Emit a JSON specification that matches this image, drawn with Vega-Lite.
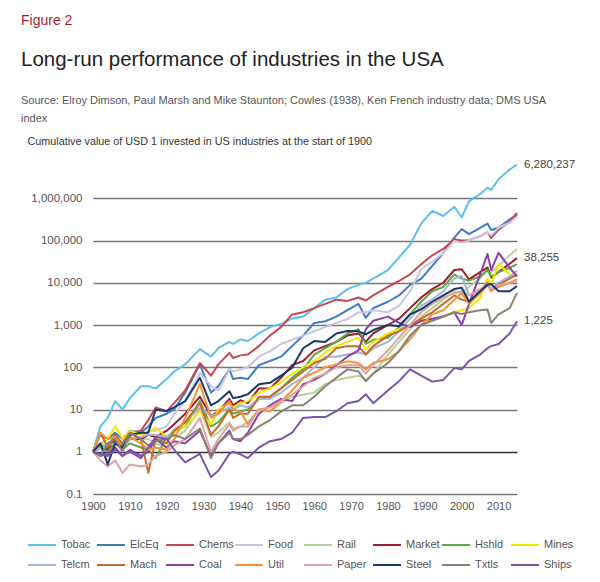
{
  "$schema": "https://vega.github.io/schema/vega-lite/v6.json",
  "padding": {"left": 21, "top": 13, "right": 5, "bottom": 5},
  "title": {"text": "Figure 2", "anchor": "start", "color": "#a81c2f", "fontSize": 14, "fontWeight": "normal", "font": "Liberation Sans", "offset": 22},
  "vconcat": [
    {
      "width": 424,
      "height": 338,
      "title": {
        "text": "Long-run performance of industries in the USA",
        "subtitle": ["Source: Elroy Dimson, Paul Marsh and Mike Staunton; Cowles (1938), Ken French industry data; DMS USA", "index"],
        "anchor": "start", "frame": "group", "dx": -72,
        "font": "Liberation Sans", "fontSize": 20.5, "fontWeight": "normal", "color": "#222",
        "subtitleFont": "Liberation Sans", "subtitleFontSize": 11, "subtitleColor": "#555", "subtitleLineHeight": 18, "subtitlePadding": 25,
        "offset": 11
      },
      "data": {"values": [
        {"Year":1900,"Tobac":1,"ElcEq":1,"Chems":1,"Food":1,"Rail":1,"Market":1,"Hshld":1,"Mines":1,"Telcm":1,"Mach":1,"Coal":1,"Util":1,"Paper":1,"Steel":1,"Txtls":1,"Ships":1},
        {"Year":1902,"Tobac":3.98,"ElcEq":2.51,"Chems":1.41,"Food":1.26,"Rail":1.58,"Market":1.26,"Hshld":1.26,"Mines":1.58,"Telcm":1.26,"Mach":2.82,"Coal":0.794,"Util":2.82,"Paper":0.631,"Steel":1.58,"Txtls":0.794,"Ships":0.891},
        {"Year":1904,"Tobac":6.31,"ElcEq":2.0,"Chems":1.26,"Food":1.12,"Rail":1.41,"Market":1.12,"Hshld":1,"Mines":2.0,"Telcm":1.41,"Mach":1.26,"Coal":0.891,"Util":2.0,"Paper":0.447,"Steel":0.501,"Txtls":1.58,"Ships":0.794},
        {"Year":1906,"Tobac":15.8,"ElcEq":2.82,"Chems":2.0,"Food":1.58,"Rail":2.24,"Market":1.78,"Hshld":1.58,"Mines":3.98,"Telcm":1.58,"Mach":2.51,"Coal":1.26,"Util":2.24,"Paper":0.631,"Steel":1.58,"Txtls":2.0,"Ships":1.12},
        {"Year":1908,"Tobac":10,"ElcEq":2.0,"Chems":1.58,"Food":1.26,"Rail":1.58,"Market":1.41,"Hshld":1.12,"Mines":2.0,"Telcm":1.58,"Mach":1.58,"Coal":0.794,"Util":1.26,"Paper":0.316,"Steel":1.26,"Txtls":1,"Ships":0.794},
        {"Year":1910,"Tobac":18.6,"ElcEq":3.16,"Chems":2.82,"Food":2.0,"Rail":2.24,"Market":2.0,"Hshld":1.58,"Mines":3.16,"Telcm":2.0,"Mach":2.82,"Coal":1.12,"Util":2.24,"Paper":0.501,"Steel":2.51,"Txtls":2.82,"Ships":1},
        {"Year":1913,"Tobac":35.5,"ElcEq":2.82,"Chems":3.16,"Food":2.0,"Rail":2.0,"Market":2.0,"Hshld":1.26,"Mines":2.51,"Telcm":2.24,"Mach":2.0,"Coal":0.794,"Util":1.58,"Paper":0.447,"Steel":2.82,"Txtls":2.0,"Ships":0.708},
        {"Year":1915,"Tobac":35.5,"ElcEq":3.98,"Chems":5.62,"Food":3.16,"Rail":2.0,"Market":2.51,"Hshld":1.12,"Mines":2.82,"Telcm":2.51,"Mach":0.316,"Coal":1,"Util":1.12,"Paper":0.501,"Steel":2.82,"Txtls":1.41,"Ships":1.26},
        {"Year":1917,"Tobac":31.6,"ElcEq":6.31,"Chems":11.2,"Food":3.16,"Rail":1.58,"Market":2.24,"Hshld":0.708,"Mines":3.72,"Telcm":2.51,"Mach":2.0,"Coal":2.0,"Util":1.26,"Paper":0.794,"Steel":10,"Txtls":1.78,"Ships":2.24},
        {"Year":1920,"Tobac":52.5,"ElcEq":7.94,"Chems":9.12,"Food":3.98,"Rail":1.26,"Market":3.16,"Hshld":2.24,"Mines":2.24,"Telcm":2.24,"Mach":1.58,"Coal":1.26,"Util":1.12,"Paper":1,"Steel":9.12,"Txtls":2.0,"Ships":2.0},
        {"Year":1922,"Tobac":79.4,"ElcEq":10,"Chems":14.1,"Food":7.94,"Rail":2.0,"Market":4.47,"Hshld":3.16,"Mines":2.82,"Telcm":3.16,"Mach":3.16,"Coal":1.78,"Util":2.0,"Paper":1.41,"Steel":11.2,"Txtls":2.51,"Ships":1.12},
        {"Year":1925,"Tobac":117,"ElcEq":25.1,"Chems":28.2,"Food":15.8,"Rail":3.16,"Market":7.94,"Hshld":3.98,"Mines":3.98,"Telcm":5.01,"Mach":5.01,"Coal":1.58,"Util":6.31,"Paper":2.0,"Steel":15.8,"Txtls":2.0,"Ships":0.562},
        {"Year":1929,"Tobac":269,"ElcEq":117,"Chems":126,"Food":74.1,"Rail":10,"Market":20,"Hshld":15.8,"Mines":8.91,"Telcm":11.2,"Mach":14.1,"Coal":3.16,"Util":39.8,"Paper":6.31,"Steel":56.2,"Txtls":3.55,"Ships":0.891},
        {"Year":1932,"Tobac":178,"ElcEq":25.1,"Chems":63.1,"Food":35.5,"Rail":2.24,"Market":7.08,"Hshld":3.98,"Mines":4.47,"Telcm":7.08,"Mach":2.51,"Coal":0.794,"Util":6.31,"Paper":1,"Steel":12.6,"Txtls":0.708,"Ships":0.251},
        {"Year":1934,"Tobac":282,"ElcEq":35.5,"Chems":117,"Food":28.2,"Rail":2.82,"Market":8.91,"Hshld":5.01,"Mines":10,"Telcm":7.94,"Mach":3.98,"Coal":1.58,"Util":7.94,"Paper":2.0,"Steel":15.8,"Txtls":1.58,"Ships":0.355},
        {"Year":1937,"Tobac":398,"ElcEq":89.1,"Chems":219,"Food":89.1,"Rail":5.01,"Market":17.8,"Hshld":10,"Mines":14.1,"Telcm":11.2,"Mach":10,"Coal":3.16,"Util":15.8,"Paper":4.47,"Steel":26.9,"Txtls":2.82,"Ships":0.891},
        {"Year":1938,"Tobac":355,"ElcEq":52.5,"Chems":166,"Food":79.4,"Rail":3.55,"Market":12.6,"Hshld":7.94,"Mines":11.2,"Telcm":10,"Mach":6.31,"Coal":2.0,"Util":10,"Paper":3.16,"Steel":18.6,"Txtls":2.0,"Ships":1},
        {"Year":1940,"Tobac":457,"ElcEq":56.2,"Chems":191,"Food":89.1,"Rail":3.98,"Market":16.6,"Hshld":8.91,"Mines":14.1,"Telcm":12.6,"Mach":7.94,"Coal":1.78,"Util":8.91,"Paper":3.98,"Steel":20,"Txtls":2.0,"Ships":0.871},
        {"Year":1942,"Tobac":417,"ElcEq":52.5,"Chems":200,"Food":100,"Rail":5.01,"Market":14.1,"Hshld":10,"Mines":15.8,"Telcm":11.2,"Mach":7.94,"Coal":2.82,"Util":4.47,"Paper":3.98,"Steel":22.9,"Txtls":2.51,"Ships":0.708},
        {"Year":1945,"Tobac":631,"ElcEq":112,"Chems":316,"Food":178,"Rail":10,"Market":31.6,"Hshld":17.8,"Mines":25.1,"Telcm":17.8,"Mach":20,"Coal":7.94,"Util":10,"Paper":10,"Steel":39.8,"Txtls":3.98,"Ships":1.26},
        {"Year":1948,"Tobac":891,"ElcEq":141,"Chems":562,"Food":240,"Rail":8.91,"Market":31.6,"Hshld":20,"Mines":31.6,"Telcm":17.8,"Mach":20,"Coal":12.6,"Util":9.12,"Paper":11.2,"Steel":42.7,"Txtls":5.62,"Ships":1.78},
        {"Year":1951,"Tobac":1050,"ElcEq":178,"Chems":891,"Food":355,"Rail":14.1,"Market":56.2,"Hshld":31.6,"Mines":44.7,"Telcm":25.1,"Mach":31.6,"Coal":17.8,"Util":15.8,"Paper":15.8,"Steel":63.1,"Txtls":8.91,"Ships":2.0},
        {"Year":1954,"Tobac":1410,"ElcEq":316,"Chems":1780,"Food":447,"Rail":20,"Market":112,"Hshld":56.2,"Mines":70.8,"Telcm":39.8,"Mach":50.1,"Coal":15.8,"Util":28.2,"Paper":22.4,"Steel":97.7,"Txtls":12.6,"Ships":2.82},
        {"Year":1957,"Tobac":1580,"ElcEq":562,"Chems":2000,"Food":562,"Rail":22.4,"Market":141,"Hshld":89.1,"Mines":100,"Telcm":56.2,"Mach":79.4,"Coal":39.8,"Util":56.2,"Paper":35.5,"Steel":282,"Txtls":12.6,"Ships":6.31},
        {"Year":1960,"Tobac":2510,"ElcEq":1120,"Chems":2510,"Food":708,"Rail":25.1,"Market":251,"Hshld":200,"Mines":141,"Telcm":100,"Mach":126,"Coal":50.1,"Util":74.1,"Paper":56.2,"Steel":417,"Txtls":20,"Ships":6.61},
        {"Year":1963,"Tobac":3980,"ElcEq":1230,"Chems":3160,"Food":891,"Rail":39.8,"Market":316,"Hshld":282,"Mines":224,"Telcm":178,"Mach":158,"Coal":70.8,"Util":100,"Paper":70.8,"Steel":398,"Txtls":35.5,"Ships":6.61},
        {"Year":1966,"Tobac":4470,"ElcEq":1580,"Chems":3980,"Food":1120,"Rail":50.1,"Market":398,"Hshld":398,"Mines":316,"Telcm":178,"Mach":282,"Coal":112,"Util":117,"Paper":100,"Steel":631,"Txtls":56.2,"Ships":9.12},
        {"Year":1969,"Tobac":7080,"ElcEq":2240,"Chems":3720,"Food":1380,"Rail":56.2,"Market":562,"Hshld":631,"Mines":398,"Telcm":200,"Mach":316,"Coal":178,"Util":138,"Paper":112,"Steel":724,"Txtls":89.1,"Ships":14.1},
        {"Year":1972,"Tobac":8910,"ElcEq":3160,"Chems":4470,"Food":2000,"Rail":63.1,"Market":631,"Hshld":794,"Mines":501,"Telcm":224,"Mach":316,"Coal":251,"Util":126,"Paper":112,"Steel":708,"Txtls":79.4,"Ships":15.8},
        {"Year":1974,"Tobac":10000,"ElcEq":1480,"Chems":3800,"Food":2000,"Rail":50.1,"Market":398,"Hshld":355,"Mines":263,"Telcm":200,"Mach":200,"Coal":794,"Util":89.1,"Paper":70.8,"Steel":603,"Txtls":46.8,"Ships":22.9},
        {"Year":1976,"Tobac":12600,"ElcEq":2510,"Chems":5010,"Food":2240,"Rail":70.8,"Market":631,"Hshld":447,"Mines":398,"Telcm":282,"Mach":316,"Coal":1260,"Util":126,"Paper":112,"Steel":759,"Txtls":70.8,"Ships":14.1},
        {"Year":1980,"Tobac":20000,"ElcEq":3550,"Chems":7940,"Food":2000,"Rail":200,"Market":1000,"Hshld":501,"Mines":631,"Telcm":398,"Mach":562,"Coal":1580,"Util":155,"Paper":251,"Steel":1000,"Txtls":126,"Ships":28.2},
        {"Year":1983,"Tobac":39800,"ElcEq":5010,"Chems":11000,"Food":2820,"Rail":398,"Market":1410,"Hshld":891,"Mines":794,"Telcm":708,"Mach":708,"Coal":1120,"Util":240,"Paper":501,"Steel":933,"Txtls":240,"Ships":46.8},
        {"Year":1986,"Tobac":79400,"ElcEq":8910,"Chems":15800,"Food":6310,"Rail":794,"Market":2510,"Hshld":1780,"Mines":1000,"Telcm":1410,"Mach":1000,"Coal":891,"Util":457,"Paper":1000,"Steel":1780,"Txtls":562,"Ships":89.1},
        {"Year":1989,"Tobac":251000,"ElcEq":12300,"Chems":27500,"Food":20900,"Rail":1580,"Market":4470,"Hshld":3550,"Mines":1260,"Telcm":2820,"Mach":1410,"Coal":1260,"Util":1000,"Paper":2000,"Steel":2340,"Txtls":1000,"Ships":63.1},
        {"Year":1992,"Tobac":501000,"ElcEq":25100,"Chems":44700,"Food":31600,"Rail":2510,"Market":7080,"Hshld":6310,"Mines":1260,"Telcm":3980,"Mach":2000,"Coal":1410,"Util":1780,"Paper":3160,"Steel":3550,"Txtls":1260,"Ships":45.7},
        {"Year":1995,"Tobac":380000,"ElcEq":50100,"Chems":63100,"Food":50100,"Rail":3980,"Market":10000,"Hshld":7940,"Mines":1580,"Telcm":6310,"Mach":3160,"Coal":1580,"Util":2240,"Paper":4470,"Steel":5010,"Txtls":1580,"Ships":50.1},
        {"Year":1998,"Tobac":631000,"ElcEq":117000,"Chems":107000,"Food":97700,"Rail":6310,"Market":20000,"Hshld":15800,"Mines":2000,"Telcm":12600,"Mach":5010,"Coal":2000,"Util":3980,"Paper":5620,"Steel":7080,"Txtls":2000,"Ships":95.5},
        {"Year":2000,"Tobac":355000,"ElcEq":186000,"Chems":100000,"Food":89100,"Rail":5620,"Market":20900,"Hshld":12600,"Mines":2240,"Telcm":14500,"Mach":3980,"Coal":1000,"Util":5620,"Paper":6310,"Steel":7590,"Txtls":1820,"Ships":89.1},
        {"Year":2002,"Tobac":851000,"ElcEq":141000,"Chems":102000,"Food":100000,"Rail":7940,"Market":12000,"Hshld":11200,"Mines":2510,"Telcm":5010,"Mach":3550,"Coal":3160,"Util":3160,"Paper":5010,"Steel":3550,"Txtls":2000,"Ships":141},
        {"Year":2005,"Tobac":1260000,"ElcEq":200000,"Chems":126000,"Food":126000,"Rail":12600,"Market":17800,"Hshld":14100,"Mines":4370,"Telcm":6310,"Mach":6310,"Coal":15800,"Util":5620,"Paper":7080,"Steel":6310,"Txtls":2240,"Ships":200},
        {"Year":2007,"Tobac":1780000,"ElcEq":251000,"Chems":155000,"Food":155000,"Rail":20000,"Market":22900,"Hshld":20000,"Mines":12600,"Telcm":10000,"Mach":10000,"Coal":47900,"Util":8910,"Paper":8910,"Steel":8910,"Txtls":2340,"Ships":282},
        {"Year":2008,"Tobac":1580000,"ElcEq":178000,"Chems":115000,"Food":132000,"Rail":17800,"Market":13200,"Hshld":14100,"Mines":9330,"Telcm":7080,"Mach":6310,"Coal":20000,"Util":6310,"Paper":7080,"Steel":9330,"Txtls":1120,"Ships":316},
        {"Year":2010,"Tobac":2820000,"ElcEq":200000,"Chems":178000,"Food":200000,"Rail":25100,"Market":17800,"Hshld":17800,"Mines":27500,"Telcm":10000,"Mach":8910,"Coal":51300,"Util":7940,"Paper":8910,"Steel":6310,"Txtls":1780,"Ships":355},
        {"Year":2013,"Tobac":4790000,"ElcEq":316000,"Chems":282000,"Food":263000,"Rail":44700,"Market":28200,"Hshld":22400,"Mines":15800,"Telcm":14100,"Mach":12600,"Coal":22900,"Util":10000,"Paper":10000,"Steel":6310,"Txtls":2510,"Ships":631},
        {"Year":2015,"Tobac":6280237,"ElcEq":398000,"Chems":447000,"Food":363000,"Rail":63100,"Market":38255,"Hshld":27500,"Mines":14500,"Telcm":19100,"Mach":15800,"Coal":14100,"Util":12000,"Paper":11000,"Steel":8320,"Txtls":5750,"Ships":1225}
      ]},
      "transform": [
        {"fold": ["Tobac","ElcEq","Chems","Food","Rail","Market","Hshld","Mines","Telcm","Mach","Coal","Util","Paper","Steel","Txtls","Ships"], "as": ["Industry", "Value"]}
      ],
      "encoding": {
        "x": {"field": "Year", "type": "quantitative",
          "scale": {"domain": [1900, 2015], "nice": false, "zero": false},
          "axis": {"values": [1900,1910,1920,1930,1940,1950,1960,1970,1980,1990,2000,2010], "format": "d", "title": null, "grid": false, "domain": false, "ticks": false, "labelOverlap": false, "labelFlush": false, "labelPadding": 6, "labelFontSize": 11, "labelColor": "#555", "labelFont": "Liberation Sans"}},
        "y": {"field": "Value", "type": "quantitative",
          "scale": {"type": "log", "domain": [0.1, 10000000], "nice": false},
          "axis": {"values": [0.1,1,10,100,1000,10000,100000,1000000], "format": ",", "labelOverlap": false,
            "title": "Cumulative value of USD 1 invested in US industries at the start of 1900",
            "titleAngle": 0, "titleAlign": "left", "titleBaseline": "alphabetic", "titleX": -66, "titleY": -12,
            "titleFont": "Liberation Sans", "titleFontSize": 10.8, "titleFontWeight": "normal", "titleColor": "#333",
            "domain": false, "ticks": false, "labelPadding": 11, "labelFontSize": 11.5, "labelColor": "#555", "labelFont": "Liberation Sans",
            "gridColor": {"condition": {"test": "datum.value === 1", "value": "#333"}, "value": "#777"}, "gridWidth": 1.6}}
      },
      "layer": [
        {
          "mark": {"type": "line", "strokeJoin": "round"},
          "encoding": {
            "color": {"field": "Industry", "type": "nominal",
              "scale": {"domain": ["Tobac","ElcEq","Chems","Food","Rail","Market","Hshld","Mines","Telcm","Mach","Coal","Util","Paper","Steel","Txtls","Ships"],
                "range": ["#5bc0eb","#3d7cc9","#c9474c","#cbc3e3","#b5d49a","#a01c2c","#5aab46","#f3e600","#a3b6da","#c76a28","#8e3fa8","#f7913a","#dba3a3","#173a6a","#8a8175","#7b55aa"]},
              "legend": {"orient": "none", "legendX": -66, "legendY": 374, "direction": "horizontal", "columns": 8, "title": null,
                "symbolType": "stroke", "symbolSize": 784, "symbolStrokeWidth": 3, "labelFontSize": 11, "labelColor": "#555", "labelFont": "Liberation Sans",
                "labelOffset": 4, "gridAlign": "all", "columnPadding": -3, "rowPadding": -9}},
            "strokeWidth": {"field": "Industry", "type": "nominal",
              "scale": {"domain": ["Tobac","ElcEq","Chems","Food","Rail","Market","Hshld","Mines","Telcm","Mach","Coal","Util","Paper","Steel","Txtls","Ships"],
                "range": [2,2,2,2,3,3,2,2,3,2,2,3,3,2,2,2]},
              "legend": null}
          }
        },
        {
          "transform": [{"filter": {"field": "Industry", "oneOf": ["Tobac","Market","Ships"]}}, {"filter": "datum.Year == 2015"}],
          "mark": {"type": "text", "align": "left", "baseline": "middle", "dx": 7, "fontSize": 11.5, "color": "#444", "font": "Liberation Sans"},
          "encoding": {
            "text": {"field": "Value", "type": "quantitative", "format": ","}
          }
        }
      ]
    }
  ],
  "config": {
    "font": "Liberation Sans",
    "view": {"stroke": null}
  }
}
